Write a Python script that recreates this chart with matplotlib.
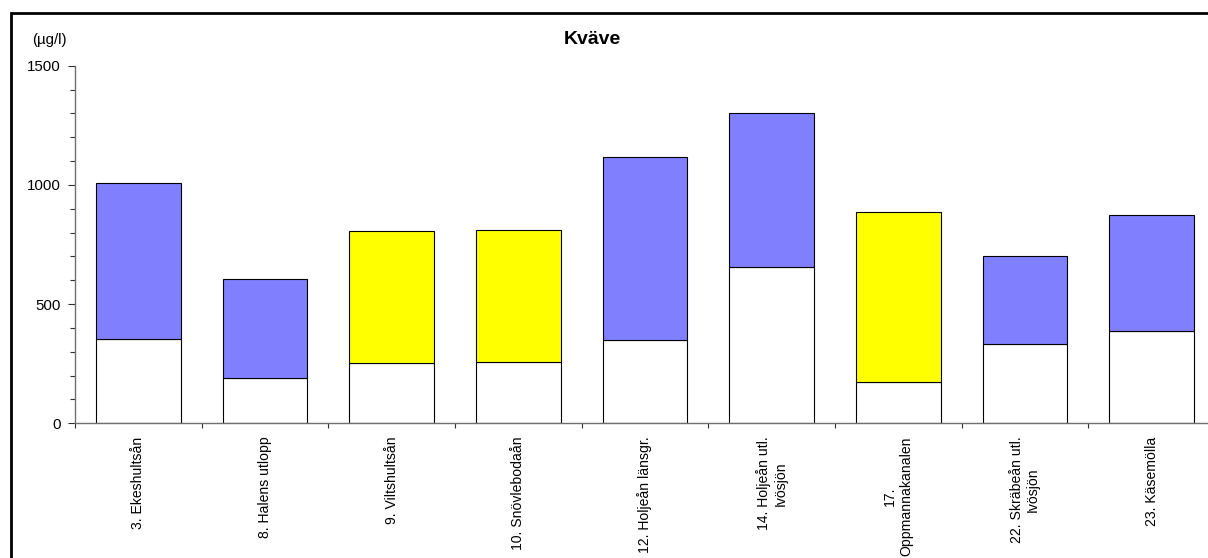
import matplotlib
matplotlib.use("Agg")
import matplotlib.pyplot as plt
import numpy as np
from matplotlib.patches import Rectangle

plt.rcParams['font.family'] = ['Liberation Sans', 'DejaVu Sans']

stations = ["3. Ekeshultsån", "8. Halens utlopp", "9. Viltshultsån", "10. Snövlebodaån",
            "12. Holjeån länsgr.", "14. Holjeån utl.\nIvösjön", "17.\nOppmannakanalen",
            "22. Skräbeån utl.\nIvösjön", "23. Käsemölla"]
base_values = [354, 189, 255, 258, 348, 656, 173, 334, 387]
total_values = [1009, 605, 805, 812, 1116, 1302, 885, 700, 874]
top_class = ["blå", "blå", "gul", "gul", "blå", "blå", "gul", "blå", "blå"]
class_colors = {"blå": "#8080FF", "gul": "#FFFF00"}

W, H = 1208, 558
fig = plt.figure(figsize=(W / 100, H / 100), dpi=100)
fig.patch.set_facecolor("white")

# axes: left 75px, zero line at 423.3px, 1500 at 65.7px, category width ~126.7px
ax_left, ax_right = 75, 1215
ax_bottom, ax_top = 423.3, 65.7
ax = fig.add_axes([ax_left / W, 1 - ax_bottom / H, (ax_right - ax_left) / W, (ax_bottom - ax_top) / H])

x = np.arange(len(stations))
upper = [t - b for t, b in zip(total_values, base_values)]
colors = [class_colors[c] for c in top_class]
ax.bar(x, base_values, width=0.67, color="white", edgecolor="black", linewidth=0.8, zorder=2)
ax.bar(x, upper, bottom=base_values, width=0.67, color=colors, edgecolor="black", linewidth=0.8, zorder=2)

ax.set_xlim(-0.5, len(stations) - 0.5)
ax.set_ylim(0, 1500)
ax.set_yticks([0, 500, 1000, 1500])
ax.set_yticks(np.arange(0, 1501, 100), minor=True)
ax.tick_params(axis="y", which="major", length=5, width=0.8, pad=5, labelsize=10.8, color="#303030")
ax.tick_params(axis="y", which="minor", length=3.6, width=0.8, color="#303030")

ax.set_xticks(np.arange(-0.5, len(stations), 1))
ax.set_xticklabels([])
ax.set_xticks(x, minor=True)
ax.set_xticklabels(stations, minor=True, rotation=90, ha="center", va="top",
                   multialignment="center", fontsize=10.1)
ax.tick_params(axis="x", which="major", length=3.6, width=0.8, color="#303030")
ax.tick_params(axis="x", which="minor", length=0, pad=9.5)

for s in ["top", "right"]:
    ax.spines[s].set_visible(False)
for s in ["left", "bottom"]:
    ax.spines[s].set_color("#707070")
    ax.spines[s].set_linewidth(1.0)

fig.text(592 / W, 1 - 39 / H, "Kväve", fontsize=14, fontweight="bold", ha="center", va="center")
fig.text(49 / W, 1 - 40 / H, "(µg/l)", fontsize=10.8, ha="center", va="center")

# outer chart border (cropped at right and bottom)
fig.add_artist(Rectangle((11 / W, -0.2), 2.0, (H - 13) / H + 0.2, transform=fig.transFigure,
                         fill=False, edgecolor="black", linewidth=2, clip_on=False))

fig.savefig("out.png", dpi=100)
